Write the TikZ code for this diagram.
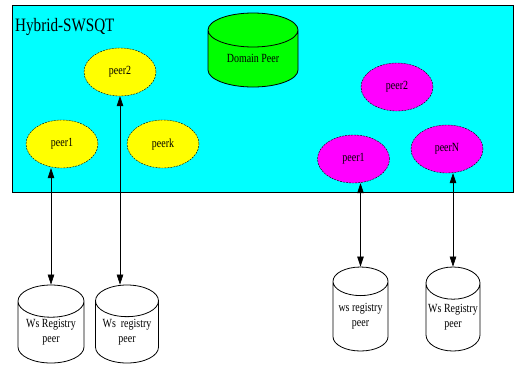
\documentclass[tikz,border=0pt]{standalone}
\usepackage{fontspec}
\setmainfont{Liberation Serif}[FakeStretch=0.8]
\usetikzlibrary{shapes.geometric}
\usetikzlibrary{arrows.meta}
\definecolor{areacyan}{RGB}{0,255,255}
\definecolor{peeryellow}{RGB}{255,255,0}
\definecolor{peermagenta}{RGB}{255,0,255}
\definecolor{domgreen}{RGB}{0,255,0}
\tikzset{
    peer/.style={
        ellipse, draw,
        dash pattern=on 2bp off 1bp,
        minimum width=72bp, minimum height=48bp,
        inner sep=0pt,
        font=\fontsize{12.5}{15}\selectfont},
    ypeer/.style={peer, fill=peeryellow},
    mpeer/.style={peer, fill=peermagenta},
    store/.style={
        cylinder, shape border rotate=90,
        draw, line width=.8bp, aspect=.65,
        inner sep=0pt, align=center,
        anchor=shape center,
        font=\fontsize{12.5}{15}\selectfont},
    every edge/.style={
        draw,
        {Triangle[length=10bp,width=6.5bp]}-{Triangle[length=10bp,width=6.5bp]},
        line width=.6bp}}

\begin{document}
\begin{tikzpicture}[x=1bp,y=-1bp]
    \useasboundingbox (0,0) rectangle (514,365);

    % the overlay area
    \node[draw, fill=areacyan, anchor=north west,
          minimum width=501bp, minimum height=187bp] (swsqt) at (12,5) {};
    \node[anchor=base west, inner sep=0pt,
          font=\fontsize{19}{22}\selectfont] (title) at (15,31) {Hybrid-SWSQT};

    \node[store, fill=domgreen, minimum width=90bp, minimum height=74bp] (dom) at (253,50) {Domain Peer};

    % yellow group
    \node[ypeer] (yp2) at (120,72) {peer2};
    \node[ypeer] (yp1) at (62,144) {peer1};
    \node[ypeer] (ypk) at (163,144) {peerk};

    % magenta group
    \node[mpeer] (mp2) at (397,87) {peer2};
    \node[mpeer] (mp1) at (353.5,159) {peer1};
    \node[mpeer] (mpn) at (447,149) {peerN};

    % registries
    \node[store, minimum width=66bp, minimum height=78bp] (wr1) at (51,324) {Ws Registry\\peer};
    \node[store, minimum width=63bp, minimum height=78bp] (wr2) at (127,324) {Ws\ \ registry\\peer};
    \node[store, minimum width=55bp, minimum height=84bp] (wr3) at (360.5,309) {ws registry\\peer};
    \node[store, minimum width=54bp, minimum height=84bp] (wr4) at (453,309) {Ws Registry\\peer};

    \draw (yp1.south -| wr1.north) edge (wr1);
    \draw (yp2) edge (yp2.south |- wr2.north);
    \draw (mp1.south -| wr3.north) edge (wr3);
    \draw (mpn.south -| wr4.north) edge (wr4);
\end{tikzpicture}
\end{document}
